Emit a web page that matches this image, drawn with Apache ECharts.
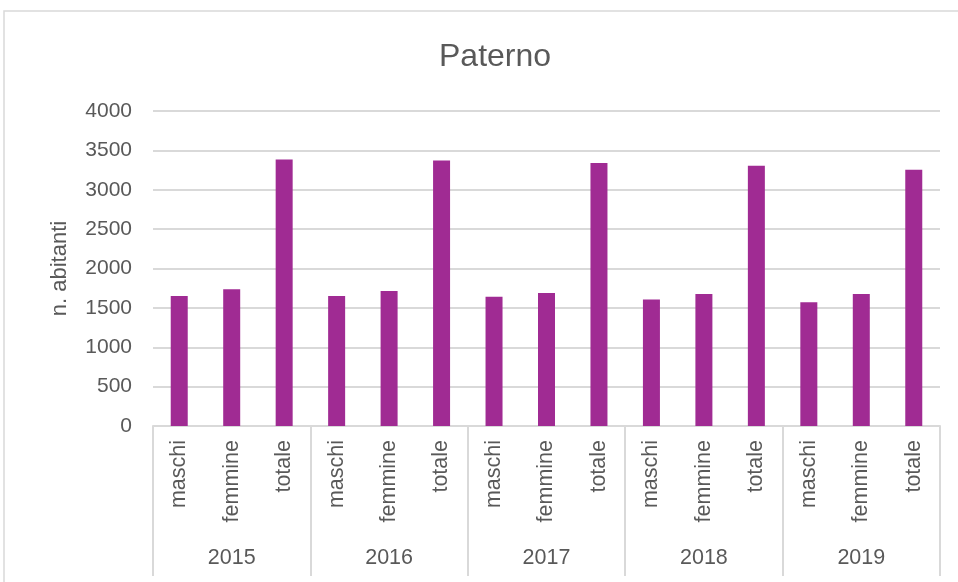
<!DOCTYPE html>
<html>
<head>
<meta charset="utf-8">
<script src="https://cdn.jsdelivr.net/npm/echarts@6/dist/echarts.min.js"></script>
<style>
  html, body { margin: 0; padding: 0; background: #fff; }
  #chart { width: 958px; height: 582px; }
</style>
</head>
<body>
<div id="chart"></div>
<script>
// dati
const anni = ['2015', '2016', '2017', '2018', '2019']
const voci = ['maschi', 'femmine', 'totale']
const maschi = [1650, 1650, 1640, 1605, 1570]
const femmine = [1735, 1715, 1690, 1675, 1675]
const totale = [3385, 3370, 3340, 3305, 3255]
const yTicks = [0, 500, 1000, 1500, 2000, 2500, 3000, 3500, 4000]

// categorie del primo livello e valori in ordine
let categorie = []
let valori = []
anni.forEach((a, i) => {
    categorie.push(voci[0], voci[1], voci[2])
    valori.push(maschi[i], femmine[i], totale[i])
})

const grigio = '#595959'
const linea = '#D9D9D9'
const font = '"Liberation Sans", Arial, sans-serif'

let myChart = echarts.init(document.getElementById('chart'))

let option = {
    animation: false,
    graphic: [{
        type: 'rect',
        shape: { x: 4, y: 11, width: 1000, height: 600 },
        style: { fill: 'none', stroke: '#D9D9D9', lineWidth: 1.5 },
        silent: true
    }],
    title: {
        text: 'Paterno',
        left: 434,
        top: 36,
        textStyle: {
            color: grigio,
            fontSize: 32,
            fontWeight: 'normal',
            fontFamily: '"Liberation Sans Narrow", "Liberation Sans", sans-serif'
        }
    },
    grid: {
        left: 153,
        right: 18,
        top: 111,
        bottom: 156,
        containLabel: false
    },
    xAxis: [
        {
            type: 'category',
            data: categorie,
            position: 'bottom',
            axisLine: { show: true, lineStyle: { color: linea, width: 2 } },
            axisTick: { show: false },
            axisLabel: {
                rotate: 90,
                interval: 0,
                margin: 14,
                color: grigio,
                fontSize: 21.5,
                fontFamily: font
            }
        },
        {
            type: 'category',
            data: anni,
            position: 'bottom',
            axisLine: { show: false },
            axisTick: {
                show: true,
                length: 150,
                lineStyle: { color: linea, width: 2 }
            },
            axisLabel: {
                interval: 0,
                margin: 121,
                color: grigio,
                fontSize: 21.5,
                fontFamily: font
            }
        }
    ],
    yAxis: {
        type: 'value',
        min: yTicks[0],
        max: yTicks[yTicks.length - 1],
        interval: 500,
        name: 'n. abitanti',
        nameLocation: 'middle',
        nameGap: 82,
        nameTextStyle: {
            color: grigio,
            fontSize: 22,
            fontFamily: font
        },
        axisLine: { show: false },
        axisTick: { show: false },
        axisLabel: {
            margin: 21,
            color: grigio,
            fontSize: 21,
            fontFamily: font,
            formatter: v => String(v)
        },
        splitLine: { lineStyle: { color: linea, width: 2 } }
    },
    series: [
        {
            type: 'bar',
            xAxisIndex: 0,
            data: valori,
            barWidth: 17,
            itemStyle: { color: '#A02B93' }
        }
    ]
}

myChart.setOption(option)
</script>
</body>
</html>
